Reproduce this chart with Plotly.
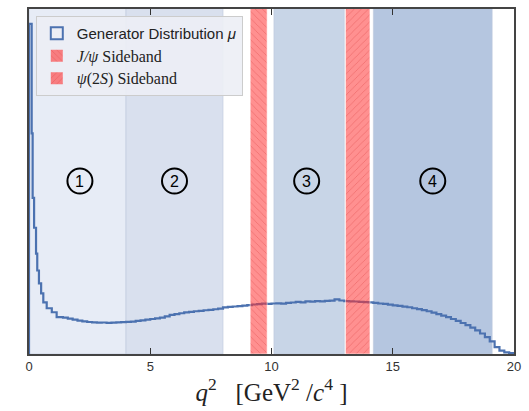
import plotly.graph_objects as go

# Histogram bin edges (q^2 in GeV^2/c^4) and heights (arbitrary units)
fine_edges = [0.0, 0.11, 0.15, 0.21, 0.29, 0.34, 0.41, 0.50, 0.59, 0.73, 0.94, 1.14, 1.4]
fine_vals = [332, 222, 157, 127, 101, 84, 71, 61, 52, 46, 42, 37]

coarse_start = 1.4
coarse_width = 0.2
coarse_vals = [
    36.5, 35.5, 34.5, 33.5, 32.8, 32.2, 31.8, 31.5, 31.7, 31.4,
    31.6, 31.8, 32.0, 32.3, 32.6, 33.3, 33.8, 34.5, 35.2, 35.8,
    36.6, 37.8, 39.3, 40.2, 41.0, 41.8, 42.3, 43.0, 43.4, 44.0,
    44.4, 45.0, 45.6, 46.8, 47.4, 47.8, 48.2, 48.6, 49.2, 49.8,
    50.2, 50.6, 50.4, 50.8, 51.0, 50.6, 51.4, 51.8, 52.4, 52.0,
    53.0, 52.6, 53.2, 53.0, 53.4, 53.6, 55.0, 53.8, 53.2, 53.0,
    52.8, 52.4, 52.2, 52.0, 51.4, 50.8, 50.4, 49.6, 49.0, 48.4,
    47.6, 47.0, 46.0, 45.2, 44.2, 43.0, 41.6, 40.2, 38.6, 37.0,
    35.2, 33.4, 31.2, 29.0, 26.6, 23.8, 20.6, 17.0, 12.6, 7.0,
    3.4, 1.6, 0.8,
]

# Analysis regions (q^2 ranges)
region_lo = [0.0, 4.0, 10.1, 14.2]
region_hi = [4.0, 8.0, 13.0, 19.1]
region_colors = ["rgba(231,236,246,1)", "rgba(217,224,238,1)", "rgba(200,213,231,1)", "rgba(181,198,224,1)"]
region_labels = ["1", "2", "3", "4"]
label_x = [2.1, 6.0, 11.45, 16.65]
label_y = 174

# Sidebands
jpsi_band = [9.12, 9.82]
psi2s_band = [13.05, 14.06]

Y_TOP = 347

# Build step line
edges = list(fine_edges)
vals = list(fine_vals)
for i, v in enumerate(coarse_vals):
    edges.append(round(coarse_start + (i + 1) * coarse_width, 4))
    vals.append(v)
step_x = []
step_y = []
for i, v in enumerate(vals):
    step_x += [edges[i], edges[i + 1]]
    step_y += [v, v]
step_x = [0.0] + step_x + [edges[-1]]
step_y = [0.0] + step_y + [0.0]

blue = "#4C72B0"
red_bg = "rgba(255,50,50,0.6)"
red_fg = "rgba(220,50,50,0.45)"
serif = "Liberation Serif"
names = [
    "Generator Distribution <i>μ</i>",
    f"<span style='font-family:{serif};font-size:16px'><i>J/ψ</i> Sideband</span>",
    f"<span style='font-family:{serif};font-size:16px'><i>ψ</i>(2<i>S</i>) Sideband</span>",
]

fig = go.Figure()

# legend-only entries (box symbols)
fig.add_trace(go.Bar(
    x=[None], y=[None], name=names[0],
    marker=dict(color="rgba(255,255,255,0)", line=dict(color=blue, width=2)),
))
for nm, shp in zip(names[1:], ["\\", "/"]):
    fig.add_trace(go.Bar(
        x=[None], y=[None], name=nm,
        marker=dict(color=red_bg, line=dict(width=0),
                    pattern=dict(shape=shp, bgcolor=red_bg, fgcolor=red_fg, size=5,
                                 solidity=0.15, fillmode="replace")),
    ))

for lo, hi, c in zip(region_lo, region_hi, region_colors):
    fig.add_trace(go.Scatter(
        x=[lo, hi, hi, lo, lo], y=[0, 0, Y_TOP * 1.2, Y_TOP * 1.2, 0],
        fill="toself", fillcolor=c, mode="lines",
        line=dict(color="rgba(190,200,220,0.6)", width=1),
        showlegend=False, hoverinfo="skip",
    ))

fig.add_trace(go.Scatter(
    x=step_x, y=step_y, mode="lines", line=dict(color=blue, width=2.2),
    showlegend=False, name="hist",
))

def band(lo_hi, shape):
    lo, hi = lo_hi
    return go.Scatter(
        x=[lo, hi, hi, lo, lo], y=[0, 0, Y_TOP * 1.2, Y_TOP * 1.2, 0],
        fill="toself", mode="lines",
        fillcolor=red_bg,
        fillpattern=dict(shape=shape, bgcolor=red_bg, fgcolor=red_fg, size=5,
                         solidity=0.15, fillmode="replace"),
        line=dict(color="rgba(255,255,255,0.6)", width=1),
        opacity=0.9, showlegend=False,
    )

fig.add_trace(band(jpsi_band, "\\"))
fig.add_trace(band(psi2s_band, "/"))

shapes = []
annotations = []
for lx, lab in zip(label_x, region_labels):
    shapes.append(dict(type="circle", xref="x", yref="y", xsizemode="pixel", ysizemode="pixel",
                       xanchor=lx, yanchor=label_y, x0=-12.5, x1=12.5, y0=-12.5, y1=12.5,
                       line=dict(color="black", width=2), layer="above"))
    annotations.append(dict(x=lx, y=label_y, xref="x", yref="y", text=lab, showarrow=False,
                            font=dict(family="Liberation Sans", size=16, color="black")))

fig.update_layout(
    width=529, height=411,
    margin=dict(l=29, r=15, t=7, b=57),
    paper_bgcolor="white", plot_bgcolor="white",
    shapes=shapes, annotations=annotations,
    showlegend=True, barmode="overlay",
    legend=dict(x=0.014, y=0.98, xanchor="left", yanchor="top",
                bgcolor="rgba(236,238,245,0.9)", bordercolor="#cccccc", borderwidth=1,
                font=dict(family="Liberation Sans", size=15, color="#222"),
                tracegroupgap=0, itemwidth=30),
    xaxis=dict(range=[0, 20], tickvals=[0, 5, 10, 15, 20], ticks="inside", ticklen=6,
               tickcolor="#333", showline=True, linecolor="#444", linewidth=1.5,
               mirror="ticks", showgrid=False, zeroline=False,
               tickfont=dict(family="Liberation Sans", size=13, color="#333"),
               title=dict(text="<i>q</i><sup>2</sup>   [GeV<sup>2</sup> /<i>c</i><sup>4</sup> ]",
                          font=dict(family=serif, size=25, color="#222"), standoff=6)),
    yaxis=dict(range=[0, Y_TOP], showticklabels=False, ticks="", showline=True,
               linecolor="#444", linewidth=1.5, mirror=True, showgrid=False, zeroline=False),
)

fig.write_html("out.html", post_script="document.body.style.margin='0';",
               config={"displayModeBar": False})
